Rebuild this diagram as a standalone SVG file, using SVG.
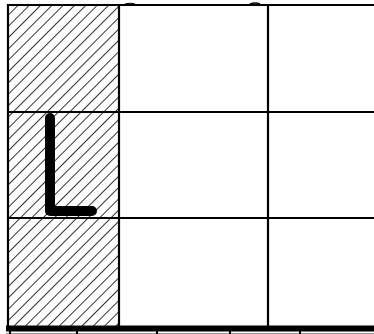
<svg xmlns="http://www.w3.org/2000/svg" width="374" height="334" viewBox="0 0 374 334">
<style>
.grid{stroke:#000;stroke-width:2.2;fill:none}
.row{stroke:#000;stroke-width:2;fill:none}
.tick{stroke:#000;stroke-width:2}
</style>
<defs>
<pattern id="hatch" patternUnits="userSpaceOnUse" width="8" height="8" patternTransform="rotate(45)">
<line x1="0" y1="-1" x2="0" y2="9" stroke="#000" stroke-width="1.6"/>
</pattern>
</defs>
<rect width="374" height="334" fill="#fff"/>
<g id="hatched-column">
<rect x="8" y="5" width="111" height="321" fill="url(#hatch)"/>
</g>
<g id="grid">
<line class="grid" x1="7" y1="5" x2="374" y2="5"/>
<line class="grid" x1="8" y1="4" x2="8" y2="327"/>
<line class="grid" x1="119" y1="4" x2="119" y2="327"/>
<line class="grid" x1="268" y1="4" x2="268" y2="327"/>
<line class="row" x1="7" y1="112" x2="374" y2="112"/>
<line class="row" x1="7" y1="218" x2="374" y2="218"/>
<line x1="6" y1="328.5" x2="374" y2="328.5" stroke="#000" stroke-width="6"/>
<line x1="6" y1="333.5" x2="374" y2="333.5" stroke="#999" stroke-width="1"/>
<line class="tick" x1="10" y1="331" x2="10" y2="334"/>
<line class="tick" x1="77" y1="331" x2="77" y2="334"/>
<line class="tick" x1="157" y1="331" x2="157" y2="334"/>
<line class="tick" x1="230" y1="331" x2="230" y2="334"/>
<line class="tick" x1="300" y1="331" x2="300" y2="334"/>
<path d="M125,4 Q130,2.5 135,4" stroke="#000" stroke-width="1.2" fill="none"/>
<path d="M250,4 Q255,2 260,4" stroke="#000" stroke-width="1.5" fill="none"/>
</g>
<g id="L-shape">
<path d="M50,118 V211 H92" stroke="#000" stroke-width="10" fill="none" stroke-linecap="round" stroke-linejoin="round"/>
</g>
</svg>
